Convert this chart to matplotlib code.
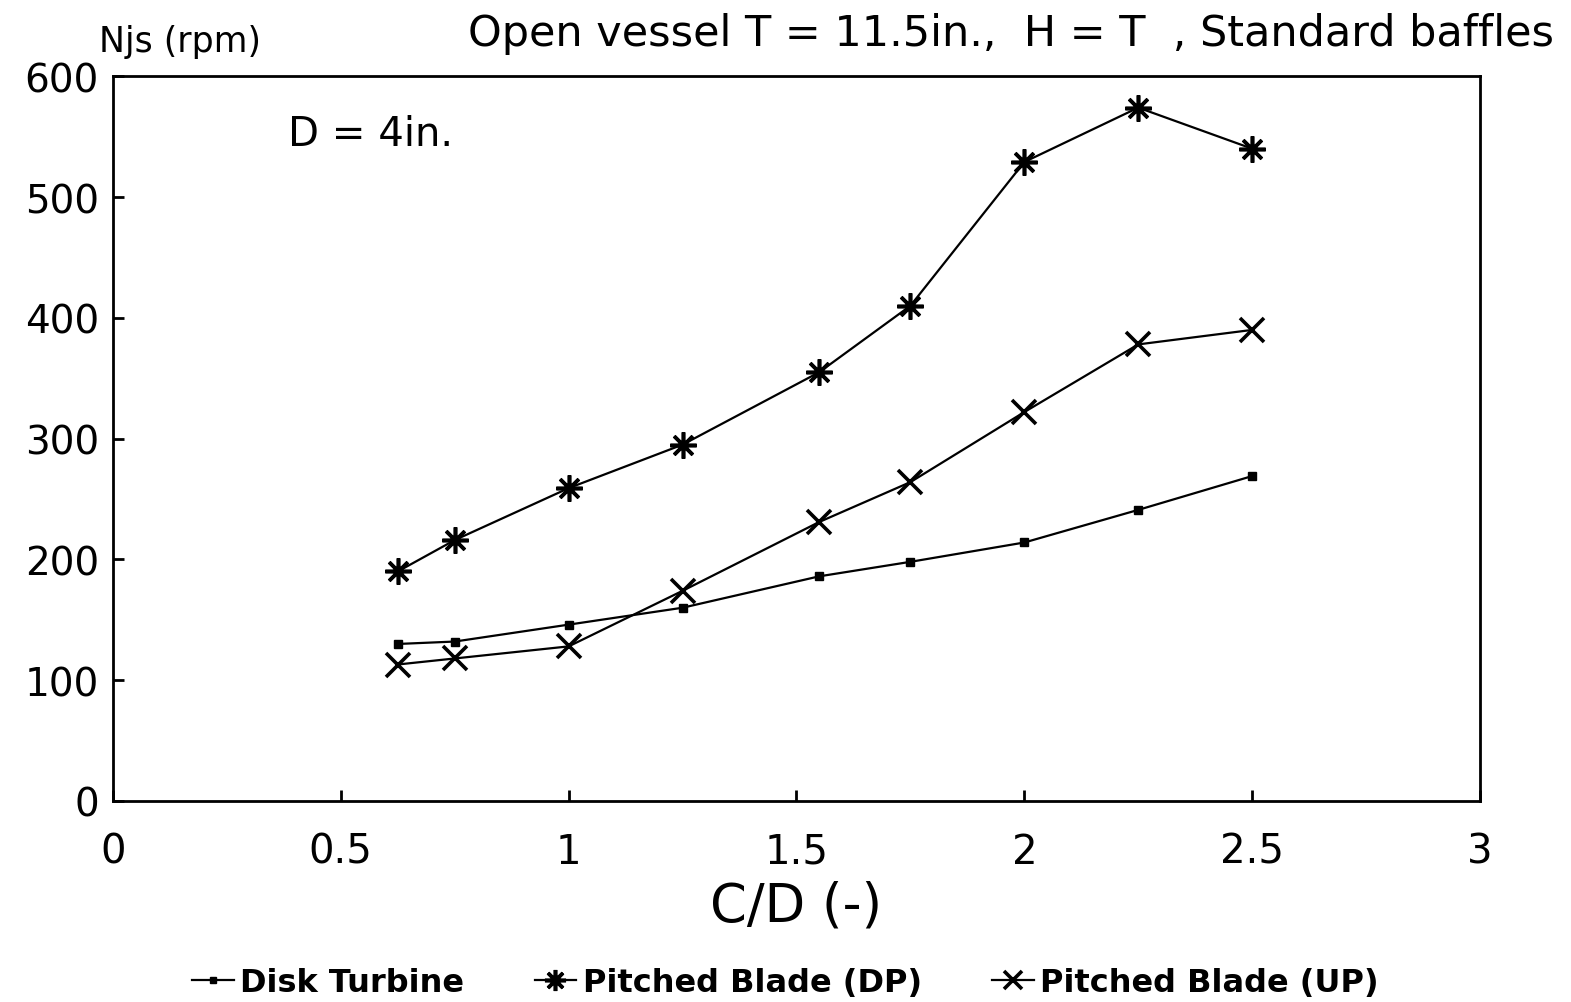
import matplotlib
matplotlib.use("Agg")
import matplotlib.pyplot as plt

# C/D (-) values and Njs (rpm)
cd = [0.625, 0.75, 1.0, 1.25, 1.55, 1.75, 2.0, 2.25, 2.5]
disk_turbine = [130, 132, 146, 160, 186, 198, 214, 241, 269]
pitched_dp = [190, 216, 259, 295, 355, 410, 529, 574, 540]
pitched_up = [113, 118, 128, 174, 231, 264, 322, 378, 390]

x_ticks = [0, 0.5, 1, 1.5, 2, 2.5, 3]
x_labels = ["0", "0.5", "1", "1.5", "2", "2.5", "3"]
y_ticks = [0, 100, 200, 300, 400, 500, 600]

plt.rcParams.update({
    "font.family": "DejaVu Sans",
    "xtick.direction": "in",
    "ytick.direction": "in",
    "axes.linewidth": 2,
})

fig = plt.figure(figsize=(15.71, 10.03), dpi=100)
ax = fig.add_axes([0.0719, 0.2004, 0.8702, 0.7226])

ax.plot(cd, disk_turbine, color="black", lw=1.6, marker="s", ms=6,
        label="Disk Turbine")
ax.plot(cd, pitched_dp, color="black", lw=1.6, marker=(8, 2, 0), ms=19,
        mew=2.6, label="Pitched Blade (DP)")
ax.plot(cd, pitched_up, color="black", lw=1.6, marker="x", ms=17,
        mew=2.6, label="Pitched Blade (UP)")

ax.set_xlim(0, 3)
ax.set_ylim(0, 600)
ax.set_xticks(x_ticks)
ax.set_xticklabels(x_labels)
ax.set_yticks(y_ticks)
ax.tick_params(axis="y", labelsize=28, length=8, width=2, pad=10)
ax.tick_params(axis="x", labelsize=29, length=8, width=2, pad=22)

ax.set_xlabel("C/D (-)", fontsize=38, labelpad=6)
ax.text(-0.01, 1.025, "Njs (rpm)", transform=ax.transAxes, fontsize=25,
        ha="left", va="bottom")
ax.text(0.128, 0.92, "D = 4in.", transform=ax.transAxes, fontsize=29,
        ha="left", va="center")
fig.text(0.989, 0.966, "Open vessel T = 11.5in.,  H = T  , Standard baffles",
         fontsize=31, ha="right", va="center")

fig.legend(loc="lower center", bbox_to_anchor=(0.5, -0.025), ncol=3,
           frameon=False, prop={"size": 23, "weight": "bold"},
           handlelength=1.3, handletextpad=0.2, columnspacing=2.2,
           markerscale=0.8)

fig.savefig("out.png", dpi=100)
